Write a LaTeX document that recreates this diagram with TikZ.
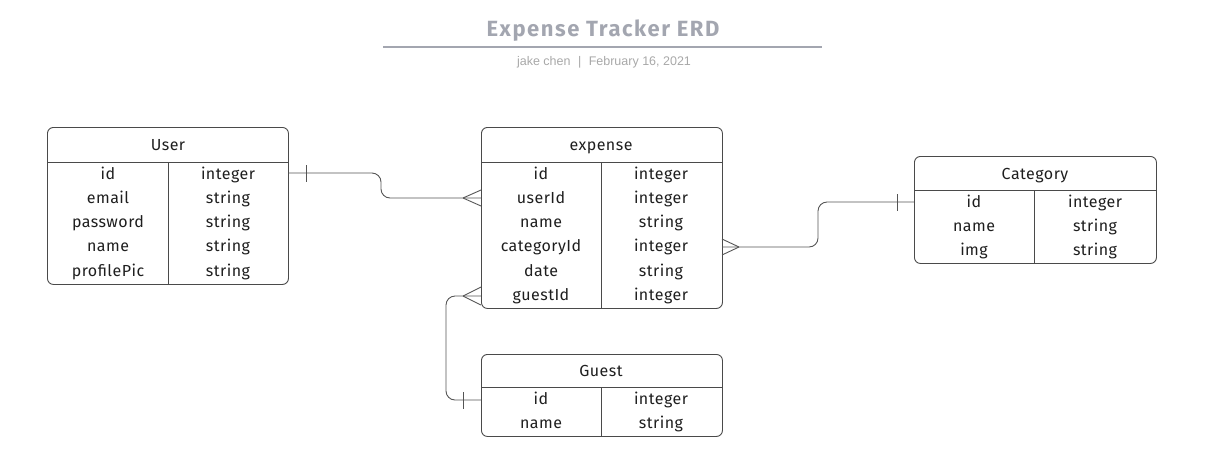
\documentclass[tikz,border=0pt]{standalone}
\usepackage{fontspec}
\setmainfont{Fira Sans}
\newfontfamily\subfont{Liberation Sans}
\newfontfamily\titlefont[LetterSpace=7]{Fira Sans}
\newfontfamily\cellfont[LetterSpace=3]{Fira Sans}
\usetikzlibrary{calc}
\definecolor{titlegray}{HTML}{A3A6B0}
\definecolor{subgray}{HTML}{A8A8A8}
\definecolor{boxline}{HTML}{4A4A4A}
\definecolor{conline}{HTML}{555555}
\definecolor{txt}{HTML}{1E1E1E}
\tikzset{
  tbl/.style={draw=boxline, line width=0.9pt, rounded corners=6pt},
  sep/.style={draw=boxline, line width=0.9pt},
  cell/.style={text=txt, font=\cellfont\fontsize{16}{18}\selectfont, inner sep=0pt, anchor=center, text height=14pt, text depth=2pt},
  hdr/.style={text=txt, font=\cellfont\fontsize{16}{18}\selectfont, inner sep=0pt, anchor=center, text height=14pt, text depth=2pt},
  con/.style={draw=conline, line width=0.9pt, rounded corners=9pt},
  mark1/.style={draw=conline, line width=0.9pt},
}
\begin{document}
\begin{tikzpicture}[x=1pt,y=-1pt]
\useasboundingbox (0,0) rectangle (1209,467);
% title
\node[text=titlegray, font=\titlefont\fontsize{22}{24}\selectfont\bfseries, inner sep=0pt] (title) at (603,31) {Expense Tracker ERD};
\draw[draw=titlegray, line width=1.4pt] (383,47) -- (822,47);
\node[text=subgray, font=\subfont\fontsize{12.5}{14}\selectfont, inner sep=0pt] (sub) at (604,62) {jake chen\hspace{0.6em}|\hspace{0.6em}February 16, 2021};

% User table
\node[tbl, minimum width=241pt, minimum height=157pt, anchor=north west] (user) at (47,127) {};
\draw[sep] (47,162) -- (288,162);
\draw[sep] (168,162) -- (168,284);
\node[hdr] (userh) at (168,144) {User};
\node[cell] (u1a) at (108,173) {id};        \node[cell] (u1b) at (228,173) {integer};
\node[cell] (u2a) at (108,197) {email};     \node[cell] (u2b) at (228,197) {string};
\node[cell] (u3a) at (108,221) {password};  \node[cell] (u3b) at (228,221) {string};
\node[cell] (u4a) at (108,245) {name};      \node[cell] (u4b) at (228,245) {string};
\node[cell] (u5a) at (108,270) {profilePic};\node[cell] (u5b) at (228,270) {string};

% expense table
\node[tbl, minimum width=241pt, minimum height=181pt, anchor=north west] (expense) at (481,127) {};
\draw[sep] (481,162) -- (722,162);
\draw[sep] (601,162) -- (601,308);
\node[hdr] (expenseh) at (601,144) {expense};
\node[cell] (e1a) at (541,173) {id};         \node[cell] (e1b) at (661,173) {integer};
\node[cell] (e2a) at (541,197) {userId};     \node[cell] (e2b) at (661,197) {integer};
\node[cell] (e3a) at (541,221) {name};       \node[cell] (e3b) at (661,221) {string};
\node[cell] (e4a) at (541,245) {categoryId}; \node[cell] (e4b) at (661,245) {integer};
\node[cell] (e5a) at (541,270) {date};       \node[cell] (e5b) at (661,270) {string};
\node[cell] (e6a) at (541,294) {guestId};    \node[cell] (e6b) at (661,294) {integer};

% Category table
\node[tbl, minimum width=242pt, minimum height=107pt, anchor=north west] (category) at (914,156) {};
\draw[sep] (914,190) -- (1156,190);
\draw[sep] (1034,190) -- (1034,263);
\node[hdr] (categoryh) at (1035,173) {Category};
\node[cell] (c1a) at (974,201) {id};   \node[cell] (c1b) at (1095,201) {integer};
\node[cell] (c2a) at (974,225) {name}; \node[cell] (c2b) at (1095,225) {string};
\node[cell] (c3a) at (974,249) {img};  \node[cell] (c3b) at (1095,249) {string};

% Guest table
\node[tbl, minimum width=241pt, minimum height=82pt, anchor=north west] (guest) at (481,354) {};
\draw[sep] (481,387) -- (722,387);
\draw[sep] (601,387) -- (601,436);
\node[hdr] (guesth) at (601,370) {Guest};
\node[cell] (g1a) at (541,398) {id};   \node[cell] (g1b) at (661,398) {integer};
\node[cell] (g2a) at (541,422) {name}; \node[cell] (g2b) at (661,422) {string};

% connector anchor coordinates
\coordinate (uid) at (288,173);
\coordinate (euser) at (481,198);
\coordinate (ecat) at (722,247);
\coordinate (cid) at (914,202);
\coordinate (eguest) at (481,296);
\coordinate (gid) at (481,400);

% User -- expense
\draw[con] (uid) -- ++(93,0) |- (euser);
\draw[mark1] ($(uid)+(18,-8)$) -- ++(0,17);
\draw[mark1] ($(euser)+(-18,0)$) -- ++(18,-8);
\draw[mark1] ($(euser)+(-18,0)$) -- ++(18,8);

% expense -- Category
\draw[con] (ecat) -- ++(96,0) |- (cid);
\draw[mark1] ($(cid)+(-17,-8)$) -- ++(0,17);
\draw[mark1] ($(ecat)+(17,0)$) -- ++(-17,-8);
\draw[mark1] ($(ecat)+(17,0)$) -- ++(-17,8);

% Guest -- expense
\draw[con] (eguest) -- ++(-35,0) |- (gid);
\draw[mark1] ($(gid)+(-18,-8)$) -- ++(0,17);
\draw[mark1] ($(eguest)+(-18,0)$) -- ++(18,-9);
\draw[mark1] ($(eguest)+(-18,0)$) -- ++(18,9);
\end{tikzpicture}
\end{document}
